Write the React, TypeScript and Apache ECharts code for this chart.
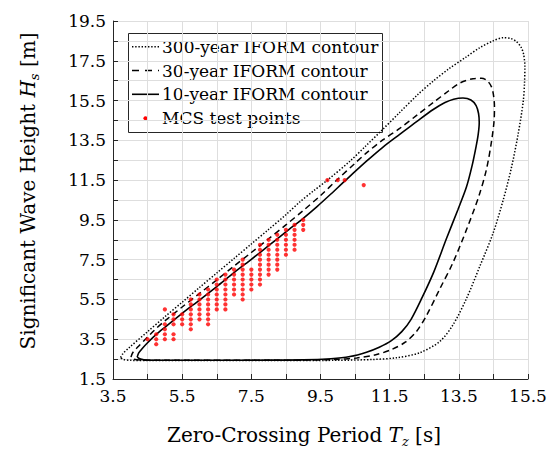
import React, { useEffect, useRef } from "react";
import * as echarts from "echarts";

// Axis ticks / labels
const xLabelValues = [3.5, 5.5, 7.5, 9.5, 11.5, 13.5, 15.5];
const yLabelValues = [1.5, 3.5, 5.5, 7.5, 9.5, 11.5, 13.5, 15.5, 17.5, 19.5];
const xMin = 3.5;
const xMax = 15.5;
const yMin = 1.5;
const yMax = 19.5;
const labelStep = 2; // labelled ticks
const gridSplit = 2; // grid lines per labelled step

// 300-year IFORM contour [Tz, Hs]
const contour300: number[][] = [
  [3.72, 2.58], [3.78, 2.76], [3.95, 3.05], [4.5, 3.88], [5.0, 4.63], [5.5, 5.36],
  [6.0, 6.1], [6.5, 6.83], [7.0, 7.56], [7.5, 8.29], [8.0, 9.02], [8.5, 9.76],
  [8.9, 10.4], [9.3, 10.96], [9.7, 11.5], [10.35, 12.45], [10.8, 13.2], [11.27, 14.0],
  [11.79, 14.9], [12.3, 15.78], [12.76, 16.48], [13.2, 17.08], [13.72, 17.7], [14.1, 18.15],
  [14.49, 18.5], [14.78, 18.66], [15.0, 18.62], [15.17, 18.46], [15.3, 18.18], [15.37, 17.85],
  [15.41, 17.23], [15.4, 16.4], [15.36, 15.42], [15.21, 13.77], [15.02, 12.12], [14.78, 10.48],
  [14.49, 8.83], [14.11, 7.18], [13.72, 5.54], [13.33, 4.22], [12.95, 3.39], [12.37, 2.82],
  [11.7, 2.57], [11.0, 2.48], [10.0, 2.44], [8.0, 2.43], [6.0, 2.43], [4.5, 2.43],
  [4.0, 2.44], [3.8, 2.48], [3.72, 2.58],
];

// 30-year IFORM contour
const contour30: number[][] = [
  [4.02, 2.6], [4.07, 2.82], [4.2, 3.08], [4.45, 3.52], [4.7, 3.96], [5.0, 4.42],
  [5.5, 5.12], [6.0, 5.8], [6.5, 6.48], [7.0, 7.18], [7.5, 7.86], [8.0, 8.55],
  [8.5, 9.25], [9.0, 9.97], [9.5, 10.72], [10.0, 11.55], [10.5, 12.35], [10.83, 12.87],
  [11.3, 13.52], [11.79, 14.1], [12.3, 14.78], [12.76, 15.4], [13.2, 15.98], [13.53, 16.38],
  [13.91, 16.6], [14.15, 16.62], [14.32, 16.5], [14.44, 16.2], [14.5, 15.8], [14.53, 15.2],
  [14.52, 14.5], [14.45, 13.5], [14.3, 12.05], [14.08, 10.7], [13.72, 9.0], [13.33, 7.35],
  [12.95, 6.03], [12.57, 4.71], [12.28, 3.9], [11.95, 3.35], [11.55, 2.98], [11.1, 2.72],
  [10.55, 2.56], [9.9, 2.48], [9.0, 2.45], [7.0, 2.44], [5.0, 2.44], [4.3, 2.45],
  [4.1, 2.5], [4.02, 2.6],
];

// 10-year IFORM contour
const contour10: number[][] = [
  [4.2, 2.6], [4.24, 2.8], [4.34, 3.02], [4.5, 3.32], [4.75, 3.74], [5.0, 4.1],
  [5.5, 4.8], [6.0, 5.47], [6.5, 6.15], [7.0, 6.85], [7.5, 7.52], [8.0, 8.2],
  [8.5, 8.9], [9.0, 9.58], [9.4, 10.17], [9.8, 10.8], [10.2, 11.45], [10.83, 12.45],
  [11.3, 13.15], [11.79, 13.8], [12.3, 14.47], [12.76, 15.05], [13.1, 15.4], [13.35, 15.57],
  [13.62, 15.63], [13.85, 15.53], [14.0, 15.25], [14.07, 14.85], [14.09, 14.4], [14.06, 13.8],
  [14.0, 13.2], [13.88, 12.2], [13.72, 11.15], [13.47, 10.0], [13.14, 8.55], [12.78, 6.9],
  [12.44, 5.6], [12.12, 4.5], [11.85, 3.88], [11.55, 3.43], [11.2, 3.1], [10.83, 2.85],
  [10.35, 2.63], [9.8, 2.52], [9.0, 2.46], [8.0, 2.45], [6.5, 2.44], [5.0, 2.44],
  [4.5, 2.45], [4.3, 2.5], [4.2, 2.6],
];

// MCS test points: Tz of each column and the Hs values in that column
const mcsTz = [4.5, 4.75, 5.0, 5.25, 5.5, 5.75, 6.0, 6.25, 6.5, 6.75, 7.0, 7.25, 7.5, 7.75, 8.0, 8.25, 8.5, 8.75, 9.0, 9.7, 10.0, 10.2, 10.75];
const mcsHs: number[][] = [
  [3.5],
  [3.25, 3.5, 3.75],
  [3.5, 3.75, 4.0, 4.25, 5.0],
  [3.5, 3.75, 4.25, 4.5, 4.75],
  [4.25, 4.5, 4.75],
  [4.0, 4.25, 4.5, 4.75, 5.0, 5.25, 5.5],
  [4.5, 4.75, 5.0, 5.25, 5.5, 5.75],
  [4.25, 4.5, 4.75, 5.0, 5.25, 5.5, 5.75, 6.0],
  [5.0, 5.25, 5.5, 5.75, 6.0, 6.25, 6.5],
  [5.0, 5.25, 5.5, 5.75, 6.0, 6.25, 6.5, 6.75],
  [5.75, 6.0, 6.25, 6.5, 6.75, 7.0],
  [5.5, 5.75, 6.0, 6.25, 6.5, 6.75, 7.0, 7.25, 7.5],
  [6.0, 6.25, 6.5, 6.75, 7.0],
  [6.25, 6.5, 6.75, 7.0, 7.25, 7.5, 7.75, 8.0, 8.25],
  [6.75, 7.0, 7.25, 7.5, 7.75, 8.0, 8.25, 8.5],
  [7.0, 7.25, 7.5, 7.75, 8.0, 8.25, 8.5, 8.75],
  [7.75, 8.0, 8.25, 8.5, 8.75, 9.0],
  [8.0, 8.25, 8.5, 8.75, 9.0, 9.25],
  [9.0, 9.25, 9.5],
  [11.5],
  [11.5],
  [11.5],
  [11.25],
];

const legendNames = ["300-year IFORM contour", "30-year IFORM contour", "10-year IFORM contour", "MCS test points"];

const FONT = '"DejaVu Serif", serif';
const INK = "#262626";
const GRID = "#dedede";

export default function App() {
  const ref = useRef<HTMLDivElement>(null);

  useEffect(() => {
    if (!ref.current) return;
    const chart = echarts.init(ref.current, null, { renderer: "svg" });

    const mcsPoints: number[][] = [];
    mcsTz.forEach((tz, i) => {
      mcsHs[i].forEach((hs) => mcsPoints.push([tz, hs]));
    });

    const richTitle = {
      a: { fontFamily: FONT, fontSize: 20, color: "#000", lineHeight: 26, verticalAlign: "middle" },
      b: { fontFamily: FONT, fontSize: 20, color: "#000", fontStyle: "italic", lineHeight: 26, verticalAlign: "middle" },
      c: { fontFamily: FONT, fontSize: 13, color: "#000", fontStyle: "italic", lineHeight: 13, verticalAlign: "bottom" },
    };

    // Main (data) axis: labels + axis line
    const mainAxis = {
      type: "value" as const,
      axisLine: { show: true, onZero: false, lineStyle: { color: INK, width: 1 } },
      axisTick: { show: false },
      splitLine: { show: false },
    };
    // Grid axis: same span, measured from the axis minimum, for grid lines and inner ticks
    const gridAxis = {
      type: "value" as const,
      interval: labelStep,
      axisLine: { show: false },
      axisLabel: { show: false },
      axisTick: { show: true, inside: true, length: 5, lineStyle: { color: INK, width: 1 } },
      minorTick: { show: true, splitNumber: gridSplit, length: 5, lineStyle: { color: INK, width: 1 } },
      splitLine: { show: true, lineStyle: { color: GRID, width: 1 } },
      minorSplitLine: { show: true, lineStyle: { color: GRID, width: 1 } },
      silent: true,
    };

    const legendRows = [46.7, 70.5, 94.3, 118.3];
    const legendText = (i: number) => ({
      type: "text",
      x: 162,
      y: legendRows[i],
      style: {
        text: legendNames[i],
        font: `17px ${FONT}`,
        fill: "#000",
        verticalAlign: "middle",
        textVerticalAlign: "middle",
      },
    });

    chart.setOption({
      animation: false,
      backgroundColor: "#ffffff",
      grid: { left: 113, right: 27, top: 21, bottom: 68, containLabel: false },
      xAxis: [
        {
          ...mainAxis,
          position: "bottom",
          min: xMin,
          max: xMax,
          axisLabel: {
            customValues: xLabelValues,
            formatter: (v: number) => v.toFixed(1),
            color: "#000",
            fontFamily: FONT,
            fontSize: 17,
            margin: 8,
          },
          name: "{a|Zero-Crossing Period }{b|T}{c|z}{a| [s]}",
          nameLocation: "middle",
          nameGap: 43,
          nameTextStyle: { padding: [0, 33, 0, 0], rich: richTitle },
          z: 5,
        },
        { ...gridAxis, position: "bottom", min: 0, max: xMax - xMin },
      ],
      yAxis: [
        {
          ...mainAxis,
          position: "left",
          min: yMin,
          max: yMax,
          axisLabel: {
            customValues: yLabelValues,
            formatter: (v: number) => v.toFixed(1),
            color: "#000",
            fontFamily: FONT,
            fontSize: 17,
            margin: 7,
          },
          name: "{a|Significant Wave Height }{b|H}{c|s}{a| [m]}",
          nameLocation: "middle",
          nameRotate: 90,
          nameGap: 72,
          nameTextStyle: { padding: [0, 0, 0, 18], rich: richTitle },
          z: 5,
        },
        { ...gridAxis, position: "left", min: 0, max: yMax - yMin },
      ],
      series: [
        {
          name: legendNames[0],
          type: "line",
          xAxisIndex: 0,
          yAxisIndex: 0,
          data: contour300,
          showSymbol: false,
          symbol: "none",
          smooth: 0.3,
          lineStyle: { color: "#000", width: 1.5, type: [1.4, 1.8] },
          z: 2,
        },
        {
          name: legendNames[1],
          type: "line",
          xAxisIndex: 0,
          yAxisIndex: 0,
          data: contour30,
          showSymbol: false,
          symbol: "none",
          smooth: 0.3,
          lineStyle: { color: "#000", width: 1.5, type: [6, 4] },
          z: 2,
        },
        {
          name: legendNames[2],
          type: "line",
          xAxisIndex: 0,
          yAxisIndex: 0,
          data: contour10,
          showSymbol: false,
          symbol: "none",
          smooth: 0.3,
          lineStyle: { color: "#000", width: 1.6, type: "solid" },
          z: 2,
        },
        {
          name: legendNames[3],
          type: "scatter",
          xAxisIndex: 0,
          yAxisIndex: 0,
          data: mcsPoints,
          symbol: "circle",
          symbolSize: 4.2,
          itemStyle: { color: "#ff0000" },
          z: 3,
        },
      ],
      graphic: [
        {
          type: "group",
          z: 100,
          children: [
            {
              type: "rect",
              shape: { x: 128.5, y: 33.5, width: 254, height: 99 },
              style: { fill: "#ffffff", stroke: INK, lineWidth: 1 },
            },
            {
              type: "line",
              shape: { x1: 132, y1: legendRows[0], x2: 159, y2: legendRows[0] },
              style: { stroke: "#000", lineWidth: 1.5, lineDash: [1.4, 1.8] },
            },
            legendText(0),
            {
              type: "line",
              shape: { x1: 132, y1: legendRows[1], x2: 159, y2: legendRows[1] },
              style: { stroke: "#000", lineWidth: 1.5, lineDash: [7, 6] },
            },
            legendText(1),
            {
              type: "line",
              shape: { x1: 132, y1: legendRows[2], x2: 159, y2: legendRows[2] },
              style: { stroke: "#000", lineWidth: 1.6 },
            },
            legendText(2),
            {
              type: "circle",
              shape: { cx: 145.5, cy: legendRows[3], r: 2.1 },
              style: { fill: "#ff0000" },
            },
            legendText(3),
          ],
        },
      ],
    });

    return () => chart.dispose();
  }, []);

  return (
    <div
      ref={ref}
      style={{ position: "absolute", left: 0, top: 0, width: 555, height: 453, background: "#fff" }}
    />
  );
}
